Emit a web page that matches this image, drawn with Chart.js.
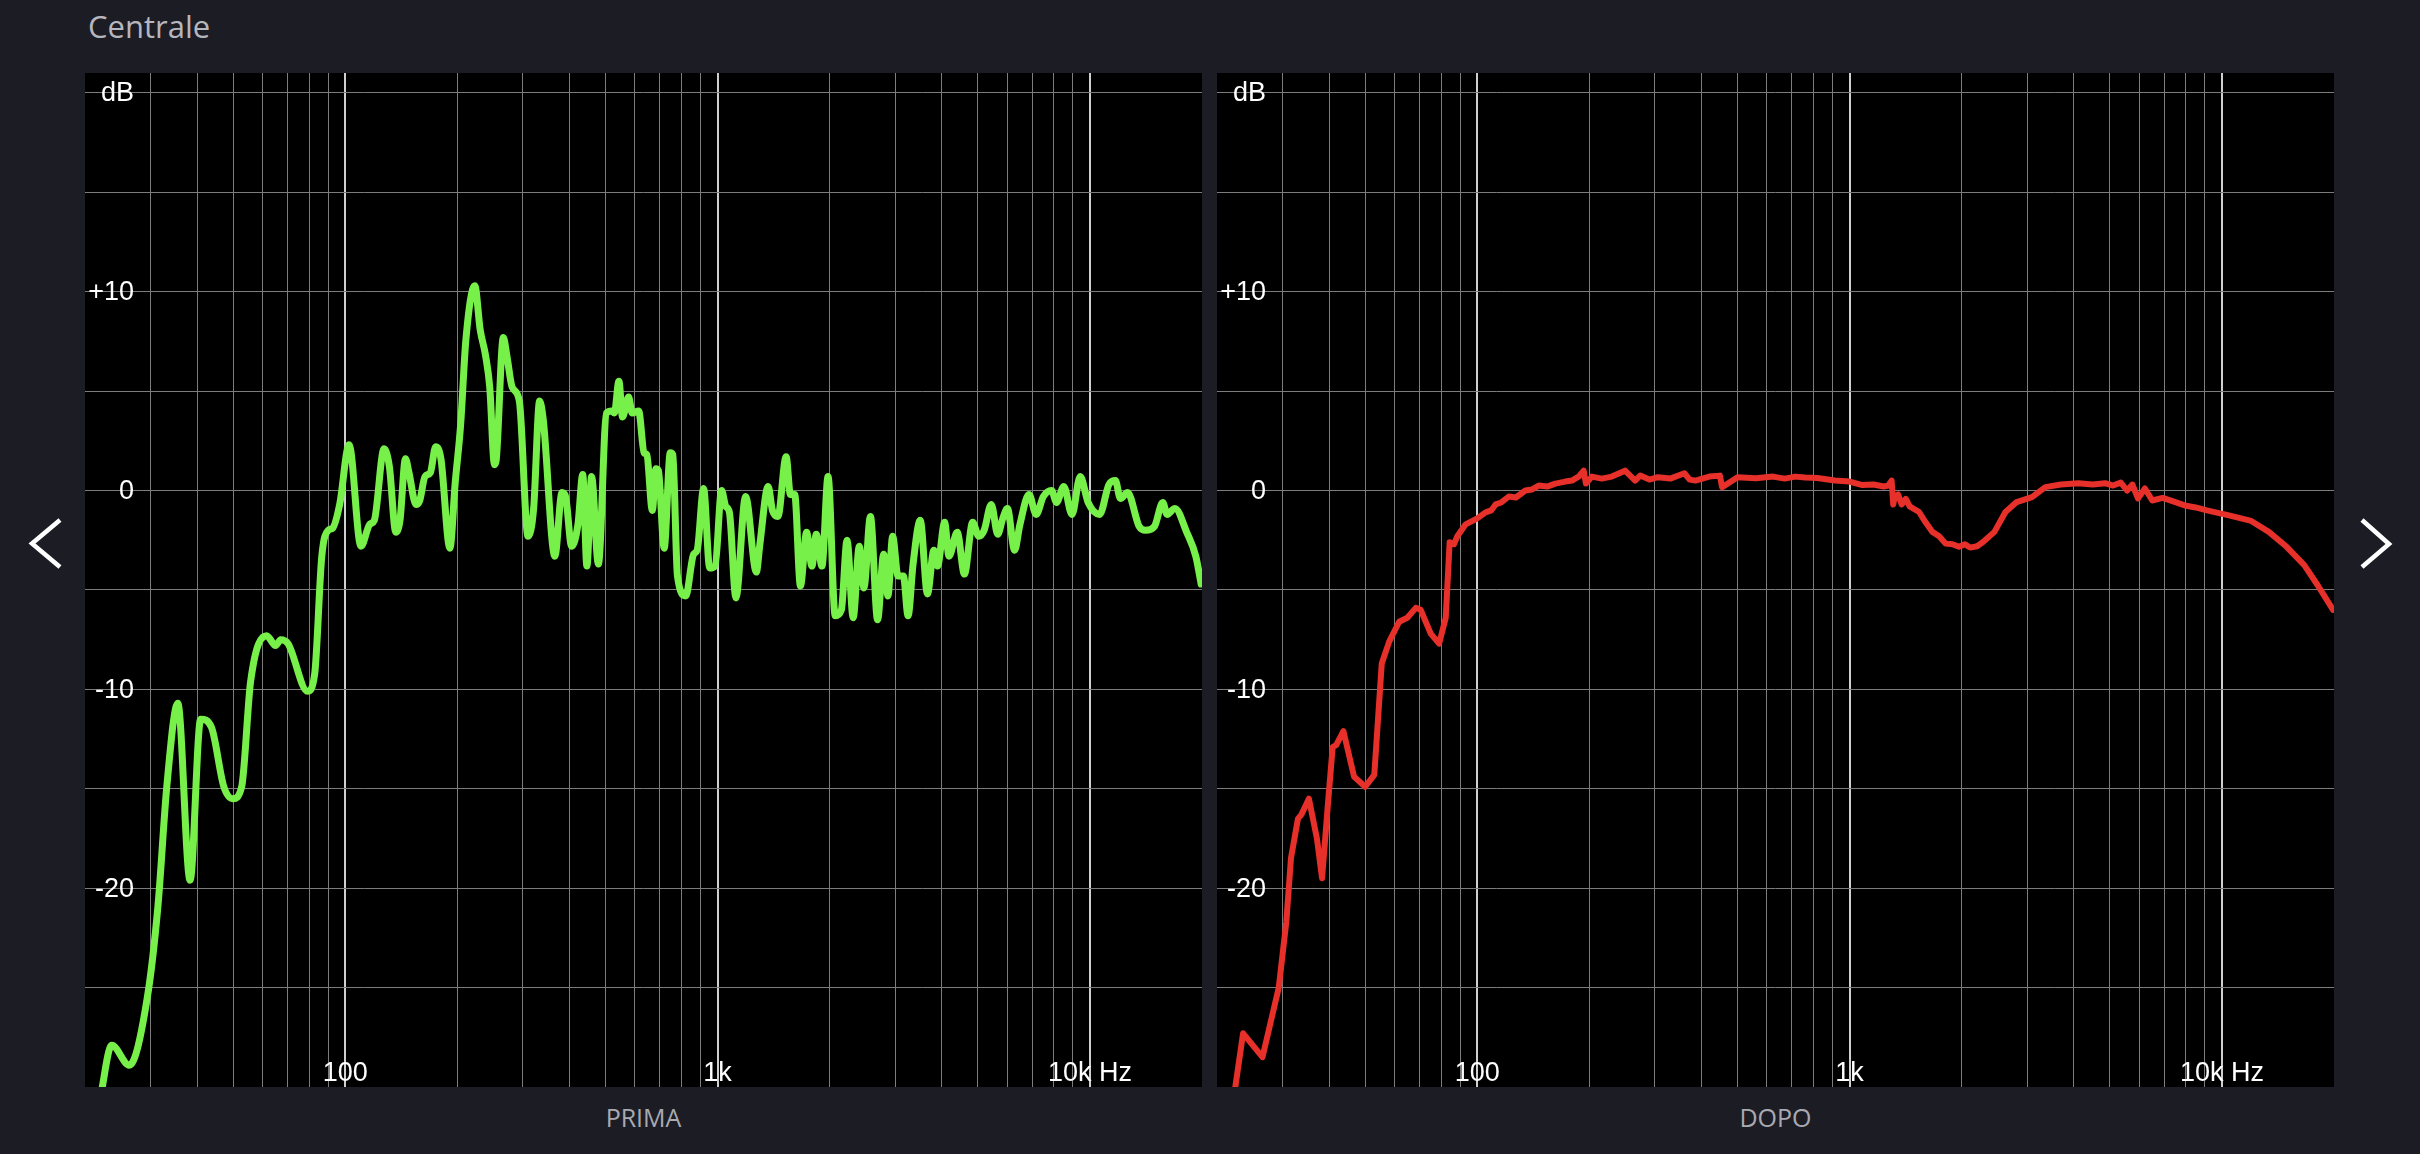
<!DOCTYPE html>
<html lang="it">
<head>
<meta charset="utf-8">
<title>Centrale</title>
<script src="https://cdn.jsdelivr.net/npm/chart.js@4.4.1/dist/chart.umd.min.js"></script>
<style>
    html, body { margin: 0; padding: 0; }
    body {
        width: 2420px; height: 1154px; position: relative; overflow: hidden;
        background: #1c1c24; font-family: "Open Sans", "Noto Sans", sans-serif;
    }
    #titolo {
        position: absolute; left: 88px; top: 11px;
        font-size: 31px; line-height: 31px; color: #b6b6be;
    }
    .pannello { position: absolute; top: 73px; width: 1117px; height: 1014px; background: #000; }
    #pannelloPrima { left: 85px; }
    #pannelloDopo  { left: 1217px; }
    .etichetta {
        position: absolute; top: 1105px; width: 1117px; text-align: center;
        font-size: 25px; line-height: 25px; color: #a9a9b1;
    }
    .freccia { position: absolute; top: 515px; }
</style>
</head>
<body>
<div id="titolo">Centrale</div>

<div class="pannello" id="pannelloPrima"><canvas id="graficoPrima" width="1117" height="1014"></canvas></div>
<div class="pannello" id="pannelloDopo"><canvas id="graficoDopo" width="1117" height="1014"></canvas></div>

<div class="etichetta" style="left:85px">PRIMA</div>
<div class="etichetta" style="left:1217px">DOPO</div>

<svg class="freccia" style="left:26px" width="40" height="58">
    <polyline points="34,5 6,28.5 34,52" fill="none" stroke="#fff" stroke-width="4.5"/>
</svg>
<svg class="freccia" style="left:2356px" width="40" height="58">
    <polyline points="6,5 33,29 6,52" fill="none" stroke="#fff" stroke-width="4.5"/>
</svg>

<script>
'use strict';

// ─── Dati: risposta in frequenza PRIMA (Hz / dB) ─────────────────────────────
const FREQ_PRIMA = [
    22, 23.6, 26.3, 29.4, 31.4, 33.2, 35.5, 38.3, 40.9, 43.7,
    47.2, 49.9, 52.7, 55.7, 61.5, 65.0, 67.1, 70.2, 79.2, 82.8,
    86.5, 90.0, 92.4, 96.6, 102.4, 110.2, 116.4, 119.7, 127.1, 131.4,
    136.7, 140.3, 145.1, 148.3, 154.9, 158.5, 163.7, 169.3, 174.9, 180.7,
    191.0, 197.4, 204.1, 210.9, 222.8, 230.3, 238.1, 244.4, 251.6, 254.2,
    265.8, 271.6, 280.7, 293.5, 309.7, 320.6, 332.7, 340.1, 365.6, 382.0,
    390.6, 405.5, 421.7, 434.3, 445.7, 458.8, 478.4, 503.1, 520.0, 528.2,
    543.3, 555.5, 576.8, 589.7, 613.8,
    634.7, 645.8, 667.9, 682.9, 693.5, 718.7, 746.3, 758.1, 780.2, 821.0,
    862.1, 881.4, 917.2, 952.4, 984.7, 1025, 1052, 1076, 1120, 1189,
    1271, 1299, 1367, 1404, 1452, 1528, 1569, 1611, 1669, 1734,
    1792, 1841, 1907, 1980, 2070, 2150, 2227, 2313, 2402, 2472,
    2573, 2690, 2793, 2868, 2952, 3052, 3155, 3248, 3350, 3502,
    3661, 3810, 3896, 4072, 4182, 4402, 4602, 4842, 5027, 5198,
    5434, 5655, 5834, 6004, 6276, 6488, 6860, 7172, 7498, 7887,
    8136, 8507, 8950, 9418, 9890, 10617, 11246, 11704, 12074, 12622,
    13552, 14104, 14911, 15692, 16113, 16918, 18199, 19241, 19893
];
const DB_PRIMA = [
    -30.5, -27.9, -28.9, -25.5, -20.9, -14.8, -10.7, -19.6, -11.5, -11.9,
    -14.9, -15.5, -14.9, -9.6, -7.3, -7.8, -7.5, -7.7, -10.1, -9.2,
    -3.3, -2.0, -1.9, -0.7, 2.3, -2.8, -1.7, -1.5, 2.1, 1.2,
    -2.1, -1.5, 1.6, 0.9, -0.7, -0.5, 0.7, 0.9, 2.2, 1.6,
    -2.9, 0.4, 3.3, 7.6, 10.3, 8.1, 6.8, 5.2, 1.3, 1.5,
    7.7, 6.8, 5.2, 4.5, -2.3, -0.9, 4.5, 3.6, -3.3, -0.1,
    -0.3, -2.8, -1.7, 0.8, -3.8, 0.7, -3.7, 3.9, 4.0, 3.9,
    5.5, 3.7, 4.7, 3.9, 4.0,
    1.9, 1.8, -1.0, 1.1, 1.0, -2.9, 1.9, 1.8, -4.3, -5.3,
    -3.2, -3.0, 0.1, -3.9, -3.8, 0, -0.8, -1.1, -5.4, -0.3,
    -4.1, -2.7, 0.2, -1.0, -1.3, 1.7, -0.2, -0.2, -4.8, -2.1,
    -3.8, -2.2, -3.8, 0.7, -6.3, -6.0, -2.5, -6.4, -2.8, -4.9,
    -1.3, -6.5, -3.2, -5.3, -2.3, -4.3, -4.3, -6.3, -3.7, -1.5,
    -5.2, -3.0, -3.8, -1.6, -3.3, -2.1, -4.2, -1.6, -2.3, -2.0,
    -0.7, -2.2, -1.4, -0.9, -3.0, -1.7, -0.2, -1.2, -0.3, 0,
    -0.6, 0.2, -1.2, 0.7, -0.6, -1.2, 0.3, 0.5, -0.4, -0.1,
    -1.8, -2.0, -1.8, -0.6, -1.2, -0.9, -2.1, -3.3, -4.7
];

// ─── Dati: risposta in frequenza DOPO (Hz / dB) ──────────────────────────────
const FREQ_DOPO = [
    22.2, 23.5, 26.5, 29.3, 30.7, 31.6, 33.0, 33.7, 35.3, 37.1,
    38.3, 39.7, 40.9, 41.8, 43.7, 46.7, 50.0, 52.9, 55.4, 58.0,
    61.7, 64.9, 68.4, 70.5, 75.0, 79.0, 82.3, 84.3, 86.6, 88.4,
    93.1, 100, 105.3, 109, 112.0, 116, 121.6, 127, 134.7, 140,
    146.3, 154, 162.1, 172.4, 179.6, 187.2, 193.1, 195.8, 203.2, 216,
    229.8, 249.5, 265.5,
    273.9, 290, 305.6, 330, 360.1, 372, 385.6, 420, 448.4, 454.6,
    500.1, 560, 622.8, 670, 714.2, 760, 818.8, 913.6, 1000, 1077,
    1160, 1235, 1270, 1297, 1310, 1322, 1350, 1380, 1416, 1450,
    1537, 1600, 1669, 1740, 1811, 1890, 1967, 2040, 2106, 2200,
    2287, 2449, 2622, 2809, 3090, 3355, 3692, 4119, 4500, 4854,
    5100, 5350, 5568, 5750, 5950, 6212, 6500, 6930, 7400, 7945,
    8500, 9113, 10447, 11985, 13366, 14918, 16643, 18062, 19886
];
const DB_DOPO = [
    -30.5, -27.3, -28.5, -25.0, -21.7, -18.5, -16.5, -16.3, -15.5, -17.5,
    -19.5, -15.8, -12.9, -12.8, -12.1, -14.4, -14.9, -14.3, -8.7, -7.6,
    -6.6, -6.4, -5.9, -6.0, -7.2, -7.7, -6.4, -2.6, -2.7, -2.3,
    -1.7, -1.4, -1.1, -1.0, -0.7, -0.6, -0.3, -0.35, 0, 0.05,
    0.25, 0.2, 0.35, 0.45, 0.5, 0.7, 1.0, 0.35, 0.7, 0.6,
    0.7, 1.0, 0.5,
    0.75, 0.55, 0.67, 0.6, 0.87, 0.55, 0.5, 0.7, 0.75, 0.17,
    0.67, 0.62, 0.7, 0.6, 0.7, 0.65, 0.63, 0.5, 0.45, 0.28,
    0.3, 0.2, 0.25, 0.5, -0.7, -0.33, -0.2, -0.7, -0.42, -0.8,
    -1.08, -1.6, -2.08, -2.3, -2.67, -2.7, -2.83, -2.7, -2.87, -2.8,
    -2.58, -2.08, -1.08, -0.58, -0.33, 0.17, 0.3, 0.37, 0.3, 0.37,
    0.25, 0.4, 0.0, 0.3, -0.4, 0.1, -0.5, -0.37, -0.55, -0.75,
    -0.85, -1.0, -1.25, -1.53, -2.08, -2.83, -3.75, -4.75, -6.0
];

// ─── Assi ─────────────────────────────────────────────────────────────────────
const Y_VALORI    = [20, 10, 0, -10, -20];
const Y_ETICHETTE = ['dB', '+10', '0', '-10', '-20'];
const X_VALORI    = [100, 1000, 10000];
const X_ETICHETTE = ['100', '1k', '10k Hz'];

const GRIGLIA_DB = [-25, -20, -15, -10, -5, 0, 5, 10, 15, 20];
const GRIGLIA_HZ = [
    30, 40, 50, 60, 70, 80, 90,
    100, 200, 300, 400, 500, 600, 700, 800, 900,
    1000, 2000, 3000, 4000, 5000, 6000, 7000, 8000, 9000,
    10000
];

// ─── Etichette disegnate dentro l'area del grafico ───────────────────────────
const etichetteInterne = {
    id: 'etichetteInterne',
    afterDraw: function (chart) {
        const ctx  = chart.ctx;
        const area = chart.chartArea;
        ctx.save();
        ctx.fillStyle = '#ffffff';
        ctx.font = '27px "Liberation Sans", Arial, sans-serif';

        ctx.textAlign = 'right';
        ctx.textBaseline = 'middle';
        Y_VALORI.forEach(function (v, i) {
            ctx.fillText(Y_ETICHETTE[i], area.left + 49, chart.scales.y.getPixelForValue(v) + 1);
        });

        ctx.textAlign = 'center';
        ctx.textBaseline = 'alphabetic';
        X_VALORI.forEach(function (v, i) {
            ctx.fillText(X_ETICHETTE[i], chart.scales.x.getPixelForValue(v), area.bottom - 6);
        });
        ctx.restore();
    },
};

function eDecade(valore) {
    return X_VALORI.indexOf(valore) !== -1;
}

// ─── Creazione di un pannello ─────────────────────────────────────────────────
function creaPannello(idCanvas, freq, db, colore, spessore, morbida) {
    const punti = freq.map(function (f, i) { return { x: f, y: db[i] }; });

    return new Chart(document.getElementById(idCanvas), {
        type: 'line',
        data: {
            datasets: [{
                data: punti,
                borderColor: colore,
                borderWidth: spessore,
                pointRadius: 0,
                tension: 0,
                cubicInterpolationMode: morbida ? 'monotone' : 'default',
                borderJoinStyle: 'round',
                borderCapStyle: 'round',
            }],
        },
        options: {
            responsive: false,
            devicePixelRatio: 1,
            animation: false,
            layout: { padding: 0 },
            plugins: {
                legend:  { display: false },
                tooltip: { enabled: false },
            },
            scales: {
                x: {
                    type: 'logarithmic',
                    min: 20,
                    max: 20000,
                    afterBuildTicks: function (scale) {
                        scale.ticks = GRIGLIA_HZ.map(function (v) { return { value: v }; });
                    },
                    afterFit: function (scale) { scale.height = 0; },
                    ticks:  { display: false },
                    border: { display: false },
                    grid: {
                        drawTicks: false,
                        color: function (c) { return eDecade(c.tick.value) ? '#cfcfcf' : '#7c7c7c'; },
                        lineWidth: function (c) { return eDecade(c.tick.value) ? 2 : 1; },
                    },
                },
                y: {
                    type: 'linear',
                    min: -30,
                    max: 21,
                    afterBuildTicks: function (scale) {
                        scale.ticks = GRIGLIA_DB.map(function (v) { return { value: v }; });
                    },
                    afterFit: function (scale) { scale.width = 0; },
                    ticks:  { display: false },
                    border: { display: false },
                    grid: { drawTicks: false, color: '#7c7c7c', lineWidth: 1 },
                },
            },
        },
        plugins: [etichetteInterne],
    });
}

// ─── Avvio ────────────────────────────────────────────────────────────────────
creaPannello('graficoPrima', FREQ_PRIMA, DB_PRIMA, '#78f04a', 7, true);
creaPannello('graficoDopo',  FREQ_DOPO,  DB_DOPO,  '#e8302a', 6, false);
</script>
</body>
</html>
